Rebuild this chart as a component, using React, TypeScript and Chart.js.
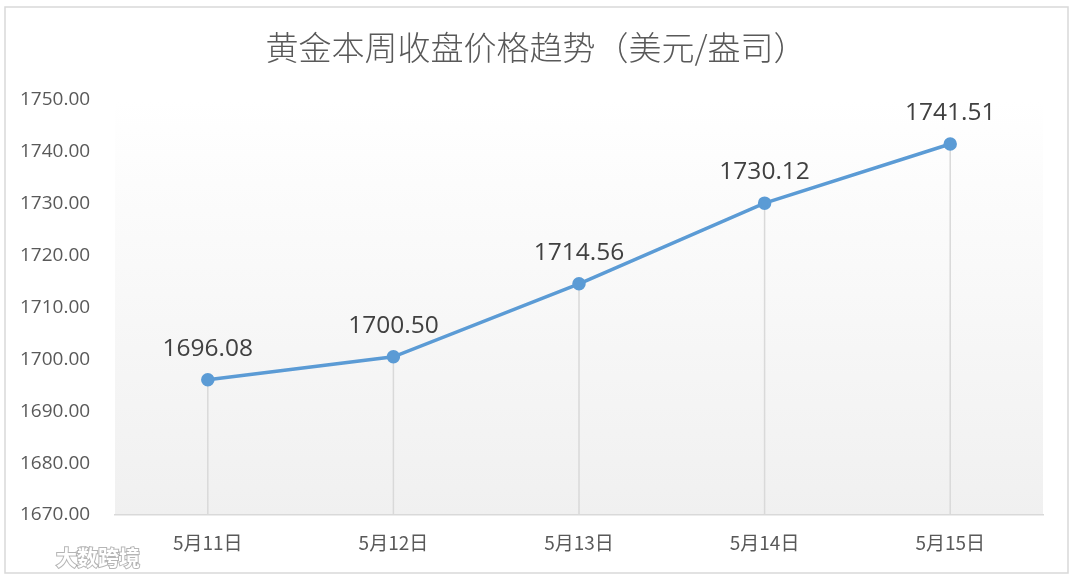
import React, { useEffect, useRef } from "react";
import { Chart, registerables } from "chart.js";

Chart.register(...registerables);

const categories = ["5月11日", "5月12日", "5月13日", "5月14日", "5月15日"];
const closePrices = [1696.08, 1700.5, 1714.56, 1730.12, 1741.51];
const yMin = 1670;
const yMax = 1750;
const yStep = 10;
const titleText = "黄金本周收盘价格趋势（美元/盎司）";
const watermarkText = "大数跨境";

const frameAndBg = {
  id: "frameAndBg",
  beforeDraw(chart: any) {
    const { ctx, chartArea } = chart;
    ctx.save();
    ctx.fillStyle = "#ffffff";
    ctx.fillRect(0, 0, chart.width, chart.height);
    ctx.strokeStyle = "#d9d9d9";
    ctx.lineWidth = 1.5;
    ctx.strokeRect(5, 7, 1063, 566);
    const g = ctx.createLinearGradient(0, chartArea.top, 0, chartArea.bottom);
    g.addColorStop(0, "#ffffff");
    g.addColorStop(1, "#f0f0f0");
    ctx.fillStyle = g;
    ctx.fillRect(chartArea.left, chartArea.top, chartArea.right - chartArea.left, chartArea.bottom - chartArea.top);
    ctx.fillStyle = "#595959";
    ctx.font = "300 33px 'Noto Sans CJK SC'";
    ctx.textAlign = "center";
    ctx.textBaseline = "middle";
    ctx.fillText(titleText, 536, 47);
    ctx.restore();
  },
  beforeDatasetsDraw(chart: any) {
    const { ctx, chartArea } = chart;
    const meta = chart.getDatasetMeta(0);
    ctx.save();
    ctx.strokeStyle = "#d9d9d9";
    ctx.lineWidth = 1.5;
    meta.data.forEach((pt: any) => {
      ctx.beginPath();
      ctx.moveTo(pt.x, pt.y);
      ctx.lineTo(pt.x, chartArea.bottom);
      ctx.stroke();
    });
    ctx.restore();
  },
  afterDatasetsDraw(chart: any) {
    const { ctx } = chart;
    const meta = chart.getDatasetMeta(0);
    ctx.save();
    ctx.fillStyle = "#404040";
    ctx.font = "24.5px 'Open Sans'";
    ctx.textAlign = "center";
    ctx.textBaseline = "middle";
    meta.data.forEach((pt: any, i: number) => {
      ctx.fillText(closePrices[i].toFixed(2), pt.x, pt.y - 31);
    });
    ctx.restore();
  },
  afterDraw(chart: any) {
    const { ctx } = chart;
    ctx.save();
    ctx.font = "bold 21px 'Noto Sans CJK SC'";
    ctx.textAlign = "left";
    ctx.textBaseline = "middle";
    ctx.lineWidth = 2;
    ctx.strokeStyle = "rgba(150,150,150,0.7)";
    ctx.strokeText(watermarkText, 56, 557);
    ctx.fillStyle = "#ffffff";
    ctx.fillText(watermarkText, 56, 557);
    ctx.restore();
  },
};

export default function App() {
  const ref = useRef<HTMLCanvasElement | null>(null);
  useEffect(() => {
    if (!ref.current) return;
    const chart = new Chart(ref.current, {
      type: "line",
      data: {
        labels: categories,
        datasets: [
          {
            data: closePrices,
            borderColor: "#5b9bd5",
            backgroundColor: "#5b9bd5",
            borderWidth: 3.5,
            pointRadius: 5,
            pointBackgroundColor: "#5b9bd5",
            pointBorderColor: "#5b9bd5",
            tension: 0,
          },
        ],
      },
      options: {
        animation: false,
        responsive: false,
        devicePixelRatio: 1,
        layout: { padding: { left: 20, right: 32, top: 100, bottom: 0 } },
        plugins: {
          legend: { display: false },
          tooltip: { enabled: false },
          title: { display: false },
        },
        scales: {
          x: {
            offset: true,
            grid: { display: false, drawTicks: false },
            border: { display: true, color: "#d9d9d9", width: 1.5 },
            ticks: {
              color: "#595959",
              font: { family: "'Noto Sans CJK SC'", size: 19 },
              padding: 16,
              maxRotation: 0,
            },
            afterFit(scale: any) {
              scale.height = 62;
            },
          },
          y: {
            min: yMin,
            max: yMax,
            grid: { display: false, drawTicks: false },
            border: { display: false },
            ticks: {
              stepSize: yStep,
              color: "#595959",
              crossAlign: "far",
              font: { family: "'Open Sans'", size: 19 },
              callback: (v: any) => Number(v).toFixed(2),
            },
            afterFit(scale: any) {
              scale.width = 95;
            },
          },
        },
      },
      plugins: [frameAndBg],
    });
    return () => chart.destroy();
  }, []);
  return (
    <div style={{ position: "fixed", left: 0, top: 0, width: 1075, height: 577 }}>
      <canvas ref={ref} width={1075} height={577} style={{ width: 1075, height: 577, display: "block" }} />
    </div>
  );
}
